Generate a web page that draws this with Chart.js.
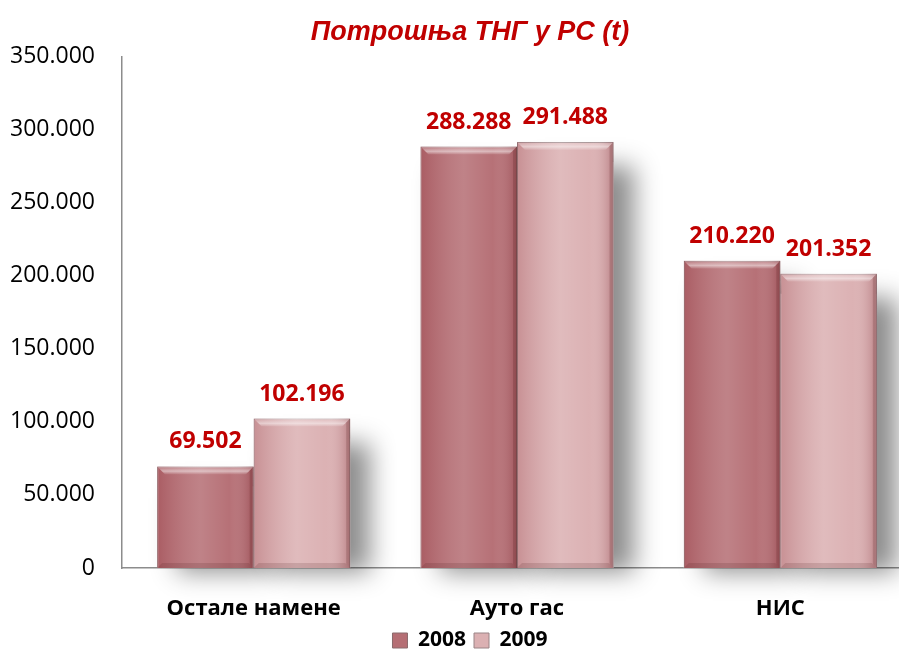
<!DOCTYPE html>
<html>
<head>
<meta charset="utf-8">
<script src="https://cdn.jsdelivr.net/npm/chart.js@4"></script>
<style>
  html, body { margin: 0; padding: 0; background: #fff; overflow: hidden; }
  #chart { display: block; }
</style>
</head>
<body>
<canvas id="chart" width="940" height="661"></canvas>
<script>
// Подаци
const categories = ['Остале намене', 'Ауто гас', 'НИС'];
const years = ['2008', '2009'];
const values2008 = [69502, 288288, 210220];
const values2009 = [102196, 291488, 201352];
const yTicks = [0, 50000, 100000, 150000, 200000, 250000, 300000, 350000];

const barColors = ['#b56e74', '#dbb0b2'];
const labelRed = '#c00000';

function fmt(v) {
    return v.toLocaleString('de-DE');
}

// senka iza stubova (bar element klipuje na svoj okvir, pa senku crtamo posebno)
const shadowPlugin = {
    id: 'barShadow',
    beforeDatasetsDraw(chart) {
        const ctx = chart.ctx;
        ctx.save();
        ctx.shadowColor = 'rgba(0, 0, 0, 0.45)';
        ctx.shadowBlur = 24;
        ctx.shadowOffsetX = 20;
        ctx.shadowOffsetY = 4;
        ctx.fillStyle = '#ffffff';
        chart.data.datasets.forEach((ds, di) => {
            chart.getDatasetMeta(di).data.forEach(bar => {
                const { x, y, base, width } = bar.getProps(['x', 'y', 'base', 'width'], true);
                ctx.fillRect(x - width / 2, y + 20, width, base - y - 20);
            });
        });
        ctx.restore();
    }
};

// "bevel" efekat + vrednosti iznad stubova
const bevelPlugin = {
    id: 'bevel',
    afterDatasetsDraw(chart) {
        const ctx = chart.ctx;
        chart.data.datasets.forEach((ds, di) => {
            const meta = chart.getDatasetMeta(di);
            meta.data.forEach((bar, i) => {
                const { x, y, base, width } = bar.getProps(['x', 'y', 'base', 'width'], true);
                const l = x - width / 2, r = x + width / 2;
                const h = base - y;
                const b = 8;
                ctx.save();
                // horizontalni prelaz
                let g = ctx.createLinearGradient(l, 0, r, 0);
                g.addColorStop(0, 'rgba(130,30,40,0.22)');
                g.addColorStop(0.45, 'rgba(255,255,255,0.14)');
                g.addColorStop(0.75, 'rgba(255,255,255,0.02)');
                g.addColorStop(1, 'rgba(110,20,30,0.30)');
                ctx.fillStyle = g;
                ctx.fillRect(l, y, width, h);
                // gornja ivica
                ctx.beginPath();
                ctx.moveTo(l, y); ctx.lineTo(r, y); ctx.lineTo(r - b, y + b); ctx.lineTo(l + b, y + b); ctx.closePath();
                let gt = ctx.createLinearGradient(0, y, 0, y + b);
                gt.addColorStop(0, 'rgba(255,255,255,0.10)');
                gt.addColorStop(0.6, 'rgba(255,255,255,0.50)');
                gt.addColorStop(1, 'rgba(255,255,255,0.05)');
                ctx.fillStyle = gt;
                ctx.fill();
                // desna ivica
                ctx.beginPath();
                ctx.moveTo(r, y); ctx.lineTo(r, base); ctx.lineTo(r - 4, base - 4); ctx.lineTo(r - 4, y + 4); ctx.closePath();
                ctx.fillStyle = 'rgba(70,20,20,0.18)';
                ctx.fill();
                // donja ivica
                ctx.beginPath();
                ctx.moveTo(l, base); ctx.lineTo(r, base); ctx.lineTo(r - 5, base - 5); ctx.lineTo(l + 5, base - 5); ctx.closePath();
                ctx.fillStyle = 'rgba(70,20,20,0.15)';
                ctx.fill();
                ctx.restore();

                // vrednost
                ctx.save();
                ctx.font = 'bold 23px "Open Sans", sans-serif';
                ctx.fillStyle = labelRed;
                ctx.textAlign = 'center';
                ctx.textBaseline = 'alphabetic';
                ctx.fillText(fmt(ds.data[i]), x, y - 18);
                ctx.restore();
            });
        });
    }
};

new Chart(document.getElementById('chart'), {
    type: 'bar',
    data: {
        labels: categories,
        datasets: [
            { label: years[0], data: values2008, backgroundColor: barColors[0], borderColor: '#8a6a6c', borderWidth: 1 },
            { label: years[1], data: values2009, backgroundColor: barColors[1], borderColor: '#9a8486', borderWidth: 1 }
        ]
    },
    options: {
        responsive: false,
        animation: false,
        layout: { padding: { left: 28, right: 28, top: 0, bottom: 0 } },
        categoryPercentage: 0.733,
        barPercentage: 1.0,
        plugins: {
            title: {
                display: true,
                text: 'Потрошња ТНГ у РС (t)',
                color: labelRed,
                font: { family: '"Liberation Sans", Arial, sans-serif', size: 27, weight: 'bold', style: 'italic' },
                padding: { top: 16, bottom: 8 }
            },
            legend: {
                position: 'bottom',
                labels: {
                    color: '#000',
                    boxWidth: 15,
                    boxHeight: 15,
                    padding: 8,
                    font: { family: '"Open Sans", sans-serif', size: 21, weight: 'bold' }
                }
            },
            tooltip: { enabled: false }
        },
        scales: {
            x: {
                afterFit(s) { s.height = 54; },
                grid: { display: false, drawTicks: false },
                border: { display: true, color: '#8c8c8c', width: 1.5 },
                ticks: {
                    color: '#000',
                    padding: 28,
                    font: { family: '"Open Sans", sans-serif', size: 22, weight: 'bold' }
                }
            },
            y: {
                min: 0,
                max: 350000,
                afterFit(s) { s.width = 94; },
                afterBuildTicks(s) { s.ticks = yTicks.map(v => ({ value: v })); },
                grid: { display: false, drawTicks: false },
                border: { display: true, color: '#8c8c8c', width: 1.5 },
                ticks: {
                    color: '#000',
                    mirror: true,
                    crossAlign: 'far',
                    padding: -112,
                    font: { family: '"Open Sans", sans-serif', size: 23 },
                    callback: (v) => fmt(v)
                }
            }
        }
    },
    plugins: [shadowPlugin, bevelPlugin]
});
</script>
</body>
</html>
